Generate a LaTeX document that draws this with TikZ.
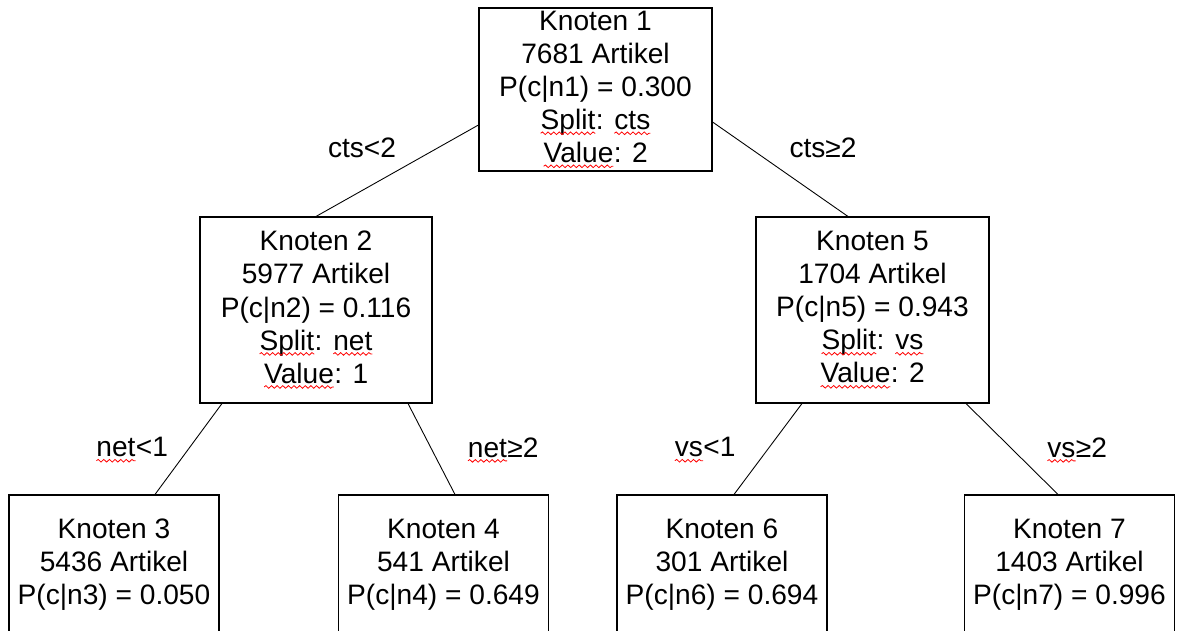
\documentclass[tikz,border=0pt]{standalone}
\usepackage{fontspec}
\setmainfont{Liberation Sans}
\usepackage{tikz}
\usetikzlibrary{decorations.pathmorphing}
\newcommand\squig[1]{\tikz[baseline=(sq.base)]{\node[inner sep=0pt, outer sep=0pt, draw=none,
        minimum width=0pt, minimum height=0pt] (sq) {#1};
    \draw[red, line width=0.45pt, decorate, decoration={snake, amplitude=0.75pt, segment length=3.2pt}]
        ([yshift=-2.2pt]sq.base west) -- ([yshift=-2.2pt]sq.base east);}}
\newcommand\boxfont{\fontsize{16pt}{18.8pt}\selectfont}

\begin{document}
\begin{tikzpicture}[
    knot/.style={draw, line width=0.6pt, align=center, font=\boxfont, inner sep=0pt},
    cond/.style={font=\boxfont, inner sep=0pt},
    branch/.style={line width=0.5pt}]
    \useasboundingbox (0,0) rectangle (23.54,12.62);
    \clip (0,0) rectangle (23.54,12.62);

    % Root
    \node[knot, minimum width=4.66cm, minimum height=3.26cm] (k1) at (11.91,10.83)
        {Knoten 1\\7681 Artikel\\P(c|n1) = 0.300\\\squig{Split}: \squig{cts}\\\squig{Value}: 2};

    % Second level
    \node[knot, minimum width=4.64cm, minimum height=3.72cm] (k2) at (6.32,6.42)
        {Knoten 2\\5977 Artikel\\P(c|n2) = 0.116\\\squig{Split}: \squig{net}\\\squig{Value}: 1};
    \node[knot, minimum width=4.66cm, minimum height=3.72cm] (k5) at (17.45,6.42)
        {Knoten 5\\1704 Artikel\\P(c|n5) = 0.943\\\squig{Split}: \squig{vs}\\\squig{Value}: 2};

    % Leaves
    \foreach \x/\i/\n/\p in {2.28/3/5436/0.050, 8.87/4/541/0.649, 14.44/6/301/0.694, 21.39/7/1403/0.996} {
        \node[knot, minimum width=4.2cm, minimum height=2.8cm] (k\i) at (\x,1.32)
            {Knoten \i\\\n{} Artikel\\P(c|n\i) = \p};
    }

    % Connections
    \draw[branch] ([yshift=-0.71cm]k1.west) -- (k2.north);
    \draw[branch] ([yshift=-0.65cm]k1.east) -- ([xshift=-0.49cm]k5.north);
    \draw[branch] ([xshift=-1.88cm]k2.south) -- ([xshift=0.82cm]k3.north);
    \draw[branch] ([xshift=1.84cm]k2.south) -- ([xshift=0.23cm]k4.north);
    \draw[branch] ([xshift=-1.41cm]k5.south) -- ([xshift=0.24cm]k6.north);
    \draw[branch] ([xshift=1.87cm]k5.south) -- ([xshift=-0.23cm]k7.north);

    % Split conditions
    \node[cond] (c12) at (7.24,9.66) {cts<2};
    \node[cond] (c15) at (16.46,9.66) {cts≥2};
    \node[cond] (c23) at (2.64,3.62) {\squig{net}<1};
    \node[cond] (c24) at (10.06,3.62) {\squig{net}≥2};
    \node[cond] (c56) at (14.10,3.62) {\squig{vs}<1};
    \node[cond] (c57) at (21.54,3.62) {\squig{vs}≥2};
\end{tikzpicture}
\end{document}
